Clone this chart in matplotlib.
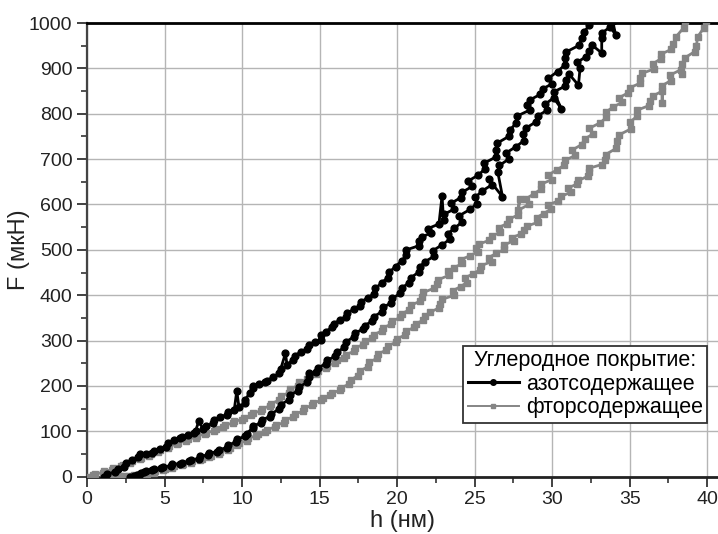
import matplotlib
matplotlib.use("Agg")
import matplotlib.pyplot as plt
from matplotlib.ticker import MultipleLocator
from matplotlib.lines import Line2D

plt.rcParams['font.family'] = ['Liberation Sans', 'DejaVu Sans']

# ---- azot-containing coating (black), branch 1 (upper/left) ----
azot_h1 = [1.1, 1.3, 1.8, 2.0, 2.4, 2.5, 2.9, 3.3, 3.4, 3.8, 4.2, 4.3, 4.7, 5.1, 5.2, 5.6, 6.0, 6.1, 6.5, 6.9,
           7.0, 7.2, 7.5, 7.7, 8.1, 8.2, 8.6, 9.0, 9.1, 9.5, 9.66, 9.8, 10.2, 10.2, 10.5, 10.7, 10.7, 11.1,
           11.5, 11.6, 12.0, 12.4, 12.5, 12.8, 12.9, 13.3, 13.4, 13.8, 14.2, 14.3, 14.7, 15.1, 15.1, 15.4,
           15.8, 15.9, 16.3, 16.7, 16.8, 17.2, 17.6, 17.7, 18.1, 18.5, 18.6, 19.0, 19.4, 19.5, 19.9, 20.3,
           20.6, 20.6, 21.4, 21.4, 21.6, 22.2, 22.0, 22.7, 22.9, 23.0, 23.0, 23.7, 23.5, 24.1, 24.2, 24.85,
           24.6, 25.25, 25.65, 25.6, 26.4, 26.35, 26.45, 27.2, 27.3, 27.7, 27.75, 28.55, 28.4, 28.6, 29.25,
           29.4, 30.0, 29.75, 30.35, 30.8, 30.8, 30.9, 31.75, 31.9, 32.05, 32.4, 32.7]
azot_F1 = [0, 5, 11, 16, 22, 30, 36, 44, 49, 51, 53, 57, 61, 66, 74, 81, 85, 88, 92, 96,
           100, 122, 105, 111, 118, 126, 131, 137, 142, 148, 189, 154, 163, 170, 184, 195, 200, 204,
           208, 212, 219, 228, 238, 272, 247, 258, 267, 275, 282, 290, 297, 301, 312, 320,
           329, 337, 345, 353, 361, 369, 377, 386, 394, 403, 415, 427, 439, 451, 463, 476,
           488, 500, 509, 519, 528, 538, 547, 557, 619, 565, 578, 590, 603, 615, 627, 640,
           652, 665, 678, 691, 705, 720, 735, 750, 765, 780, 795, 808, 820, 831, 843,
           855, 866, 878, 893, 907, 922, 936, 951, 966, 980, 995, 1010]

# ---- azot-containing coating (black), branch 2 (lower/right) ----
azot_h2 = [2.8, 3.0, 3.2, 3.4, 3.5, 3.7, 3.8, 4.2, 4.3, 4.8, 4.9, 5.4, 5.5, 6.0, 6.1, 6.6, 6.7, 7.2, 7.3,
           7.8, 7.9, 8.4, 8.5, 9.0, 9.1, 9.6, 9.7, 10.2, 10.3, 10.7, 10.7, 11.2, 11.3, 11.8, 11.9, 12.4,
           12.5, 13.0, 13.1, 13.6, 13.7, 14.2, 14.3, 14.3, 14.8, 14.9, 15.4, 15.5, 16.0, 16.1, 16.6, 16.7,
           17.2, 17.3, 17.8, 17.9, 18.4, 18.5, 19.0, 19.1, 19.6, 19.7, 20.2, 20.3, 20.8, 20.9, 21.4, 21.5,
           21.8, 22.4, 22.3, 22.9, 23.4, 23.3, 23.7, 24.2, 24.0, 24.7, 25.15, 25.05, 25.5, 26.1, 25.9, 26.8,
           26.5, 26.6, 27.2, 27.05, 27.65, 28.2, 28.1, 28.3, 28.95, 29.1, 29.7, 29.55, 30.1, 30.6, 30.1,
           30.85, 30.9, 31.1, 31.7, 31.8, 31.6, 32.2, 32.4, 32.55, 33.2, 33.2, 33.2, 33.75, 34.1, 33.9]
azot_F2 = [0, 2, 4, 6, 9, 11, 13, 15, 17, 20, 22, 24, 27, 29, 31, 34, 37, 40, 45,
           48, 52, 55, 59, 64, 70, 76, 83, 89, 95, 108, 112, 118, 126, 132, 139, 149,
           159, 169, 180, 189, 198, 208, 228, 219, 231, 240, 249, 257, 265, 274, 285, 297,
           308, 317, 325, 333, 343, 353, 363, 373, 383, 393, 404, 416, 428, 439, 451, 463,
           474, 486, 498, 511, 523, 536, 548, 561, 575, 589, 602, 616, 630, 643, 656, 617,
           671, 686, 700, 714, 727, 741, 755, 768, 782, 796, 808, 821, 835, 811, 848,
           861, 874, 887, 863, 900, 913, 926, 939, 952, 934, 966, 978, 991, 974, 1005]

# ---- fluorine-containing coating (grey), branch 1 (upper/left) ----
ftor_h1 = [0.0, 0.4, 0.5, 1.0, 1.1, 1.6, 1.7, 2.2, 2.3, 2.8, 2.9, 3.4, 3.5, 4.0, 4.1, 4.6, 4.7, 5.2, 5.3,
           5.8, 5.9, 6.4, 6.5, 7.0, 7.1, 7.6, 7.7, 8.2, 8.3, 8.8, 8.9, 9.4, 9.5, 10.0, 10.1, 10.6, 10.7,
           11.2, 11.3, 11.8, 11.9, 12.4, 12.5, 13.0, 13.1, 13.6, 13.7, 14.2, 14.3, 14.8, 14.9, 15.4, 15.5,
           16.0, 16.1, 16.6, 16.7, 17.2, 17.3, 17.8, 17.9, 18.4, 18.5, 19.0, 19.1, 19.6, 19.7, 20.2, 20.3,
           20.8, 20.9, 21.5, 21.6, 21.7, 22.35, 22.55, 22.65, 23.35, 23.3, 23.7, 24.2, 24.1, 24.7, 25.2,
           25.1, 25.3, 25.95, 26.1, 26.65, 26.55, 27.1, 27.25, 27.8, 27.9, 27.8, 28.5, 28.3, 28.85, 29.3,
           29.3, 30.0, 29.75, 30.3, 30.75, 30.8, 31.5, 31.3, 31.9, 32.1, 32.65, 32.4, 33.1, 33.5, 33.45,
           33.9, 34.5, 34.3, 34.9, 35.0, 35.65, 35.7, 35.8, 36.6, 36.5, 37.0, 37.0, 37.7, 37.8, 38.0,
           38.5, 38.6]
ftor_F1 = [0, 3, 6, 9, 12, 15, 19, 23, 26, 30, 34, 38, 42, 46, 51, 55, 59, 63, 67,
           72, 75, 79, 83, 86, 90, 94, 97, 101, 106, 110, 114, 118, 122, 126, 130, 135, 140,
           145, 150, 156, 161, 169, 177, 185, 193, 201, 208, 215, 221, 227, 233, 239, 245,
           251, 257, 262, 269, 276, 284, 291, 298, 306, 313, 321, 328, 336, 343, 351, 359,
           368, 378, 387, 397, 406, 415, 425, 434, 444, 453, 461, 470, 478, 487, 496,
           504, 513, 521, 530, 539, 549, 558, 568, 577, 611, 587, 600, 612, 624, 634,
           645, 655, 665, 676, 686, 697, 708, 720, 732, 744, 756, 768, 780, 792, 803,
           814, 825, 835, 846, 857, 867, 878, 889, 899, 910, 921, 931, 942, 953, 970,
           990, 1005]

# ---- fluorine-containing coating (grey), branch 2 (lower/right) ----
ftor_h2 = [1.5, 1.8, 2.1, 2.4, 2.7, 3.0, 3.3, 3.6, 3.9, 4.3, 4.4, 4.9, 5.0, 5.5, 5.6, 6.1, 6.2, 6.7,
           6.8, 7.3, 7.4, 7.9, 8.0, 8.5, 8.6, 9.1, 9.2, 9.7, 9.8, 10.3, 10.4, 10.9, 11.0, 11.5, 11.6,
           12.1, 12.2, 12.7, 12.8, 13.3, 13.4, 13.9, 14.0, 14.5, 14.6, 15.1, 15.2, 15.7, 15.8, 16.3,
           16.4, 16.9, 17.0, 17.5, 17.6, 18.1, 18.2, 18.7, 18.8, 19.3, 19.4, 19.9, 20.0, 20.5, 20.6,
           21.1, 21.2, 21.7, 21.8, 22.1, 22.7, 22.8, 22.9, 23.7, 23.6, 24.1, 24.5, 24.35, 24.9, 25.35,
           25.4, 26.1, 25.9, 26.4, 26.9, 26.9, 27.55, 27.4, 28.0, 28.2, 28.35, 29.1, 29.0, 29.45, 29.9,
           29.75, 30.4, 30.6, 31.2, 31.0, 31.6, 31.7, 32.3, 32.4, 32.4, 33.2, 33.4, 33.45, 34.15, 34.2,
           34.3, 35.1, 35.0, 35.5, 35.5, 36.25, 36.3, 36.5, 37.1, 37.1, 37.1, 37.65, 37.6, 38.3, 38.4,
           38.4, 38.55, 39.2, 39.3, 39.4, 39.8, 39.9]
ftor_F2 = [0, 1, 1, 2, 2, 3, 4, 5, 7, 9, 12, 14, 17, 20, 23, 25, 28, 31,
           34, 37, 40, 43, 46, 50, 54, 59, 64, 69, 74, 79, 85, 90, 94, 99, 104,
           109, 114, 119, 125, 132, 138, 144, 151, 157, 163, 168, 174, 179, 185, 190,
           196, 204, 213, 223, 233, 242, 252, 261, 271, 279, 288, 296, 304, 312, 321,
           329, 337, 345, 354, 362, 372, 381, 391, 400, 410, 419, 428, 438, 447, 456,
           465, 474, 483, 492, 501, 511, 520, 527, 535, 543, 552, 561, 571, 580, 589,
           599, 608, 618, 627, 636, 645, 653, 662, 671, 680, 688, 697, 710, 724, 739,
           753, 767, 781, 795, 808, 818, 829, 839, 850, 824, 862, 873, 885, 897, 888,
           910, 923, 937, 950, 970, 990, 1005]

legend_title = "Углеродное покрытие:"
label_azot = "азотсодержащее"
label_ftor = "фторсодержащее"
xticks = [0, 5, 10, 15, 20, 25, 30, 35, 40]
yticks = [0, 100, 200, 300, 400, 500, 600, 700, 800, 900, 1000]

fig = plt.figure(figsize=(7.18, 5.34), dpi=100)
ax = fig.add_axes([87 / 718, 1 - 476.7 / 534, 1 - 87 / 718, (476.7 - 23) / 534])

grey = "#858585"
for hh, ff in [(ftor_h1, ftor_F1), (ftor_h2, ftor_F2)]:
    ax.plot(hh, ff, color=grey, lw=2.0, marker='s', ms=4.4, mec=grey, mfc=grey, zorder=3)
for hh, ff in [(azot_h1, azot_F1), (azot_h2, azot_F2)]:
    ax.plot(hh, ff, color='black', lw=2.0, marker='o', ms=4.9, zorder=4)

ax.set_xlim(0, 40.7)
ax.set_ylim(0, 1000)
ax.set_xticks(xticks)
ax.set_yticks(yticks)
ax.xaxis.set_minor_locator(MultipleLocator(2.5))
ax.yaxis.set_minor_locator(MultipleLocator(50))
ax.grid(True, which='major', color='#b5b5b5', lw=1.0, zorder=0)
ax.set_axisbelow(True)

ax.tick_params(which='major', direction='out', length=7, width=1.3, colors='#333333',
               labelsize=14, labelcolor='#222222')
ax.tick_params(which='minor', direction='out', length=4, width=1.2, colors='#333333')

ax.spines['top'].set_linewidth(2.0)
ax.spines['top'].set_color('black')
ax.spines['bottom'].set_linewidth(2.0)
ax.spines['bottom'].set_color('#222222')
ax.spines['left'].set_linewidth(1.6)
ax.spines['left'].set_color('#444444')
ax.spines['right'].set_visible(False)

ax.set_xlabel("h (нм)", fontsize=17, labelpad=1, color='#222222')
ax.set_ylabel("F (мкН)", fontsize=17, labelpad=-1, color='#222222')

handles = [Line2D([], [], color='black', lw=2.2, marker='o', ms=4),
           Line2D([], [], color=grey, lw=1.4, marker='s', ms=3.5)]
leg = fig.legend(handles, [label_azot, label_ftor], title=legend_title,
                 loc='upper right', bbox_to_anchor=(707 / 718, 1 - 346 / 534),
                 fontsize=15.5, title_fontsize=15.5, frameon=True, fancybox=False,
                 edgecolor='#333333', framealpha=1, borderpad=0.2, labelspacing=0.12,
                 handlelength=2.4, handletextpad=0.3, borderaxespad=0, numpoints=1)
leg.get_frame().set_linewidth(1.3)

fig.savefig("out.png", dpi=100)
